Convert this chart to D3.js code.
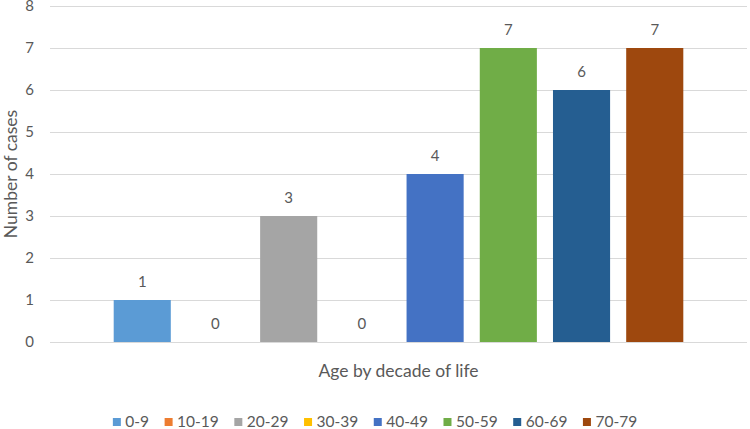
<!DOCTYPE html>
<html>
<head>
<meta charset="utf-8">
<script src="https://cdn.jsdelivr.net/npm/d3@7"></script>
<style>
  body { margin: 0; background: #fff; }
  text { font-family: Lato, "Open Sans", sans-serif; fill: #595959; }
</style>
</head>
<body>
<div class="canvas"></div>
<script>
// chart data
const groups = ['0-9', '10-19', '20-29', '30-39', '40-49', '50-59', '60-69', '70-79']
const cases = [1, 0, 3, 0, 4, 7, 6, 7]
const colors = ['#5b9bd5', '#ed7d31', '#a5a5a5', '#ffc000', '#4472c4', '#70ad47', '#255e91', '#9e480e']
const yTicks = [0, 1, 2, 3, 4, 5, 6, 7, 8]

const data = groups.map((g, i) => ({ group: g, value: cases[i], color: colors[i] }))

// dimensions
const dimensions = {
  margin: { top: 6, right: 3, bottom: 87, left: 50 },
  chartWidth: 750,
  chartHeight: 429,
}
const graphWidth = dimensions.chartWidth - dimensions.margin.left - dimensions.margin.right
const graphHeight = dimensions.chartHeight - dimensions.margin.top - dimensions.margin.bottom

const svg = d3
  .select('.canvas')
  .append('svg')
  .attr('width', dimensions.chartWidth)
  .attr('height', dimensions.chartHeight)

const graph = svg
  .append('g')
  .attr('transform', `translate(${dimensions.margin.left}, ${dimensions.margin.top})`)

// scales
const x = d3
  .scaleBand()
  .domain(groups)
  .range([0, graphWidth])
  .paddingInner(0.22)
  .paddingOuter(0.87)
const y = d3.scaleLinear().domain([0, 8]).range([graphHeight, 0])

// gridlines
graph
  .append('g')
  .selectAll('line')
  .data(yTicks)
  .join('line')
  .attr('x1', 0)
  .attr('x2', graphWidth)
  .attr('y1', (d) => Math.round(y(d)) + 0.5)
  .attr('y2', (d) => Math.round(y(d)) + 0.5)
  .attr('stroke', '#d9d9d9')
  .attr('stroke-width', 1)

// y axis
const yAxis = d3.axisLeft(y).tickValues(yTicks).tickSize(0).tickPadding(16)
const yAxisGroup = graph.append('g').call(yAxis)
yAxisGroup.select('.domain').remove()
yAxisGroup.selectAll('text').style('font-size', '15px').attr('fill', '#595959')

// bars
graph
  .selectAll('rect')
  .data(data)
  .join('rect')
  .attr('x', (d) => x(d.group))
  .attr('width', x.bandwidth())
  .attr('y', (d) => y(d.value))
  .attr('height', (d) => graphHeight - y(d.value))
  .attr('fill', (d) => d.color)

// data labels
graph
  .selectAll('.label')
  .data(data)
  .join('text')
  .attr('class', 'label')
  .attr('x', (d) => x(d.group) + x.bandwidth() / 2)
  .attr('y', (d) => y(d.value) - 13)
  .attr('text-anchor', 'middle')
  .style('font-size', '15px')
  .text((d) => d.value)

// axis titles
svg
  .append('text')
  .attr('x', dimensions.margin.left + graphWidth / 2)
  .attr('y', 377)
  .attr('text-anchor', 'middle')
  .style('font-size', '17.5px')
  .text('Age by decade of life')

svg
  .append('text')
  .attr('transform', `translate(17, ${dimensions.margin.top + graphHeight / 2}) rotate(-90)`)
  .attr('text-anchor', 'middle')
  .style('font-size', '17.5px')
  .text('Number of cases')

// legend
const legend = svg.append('g')
const gap = 15.5
let offset = 0
data.forEach((d) => {
  const item = legend.append('g').attr('transform', `translate(${offset}, 0)`)
  item.append('rect').attr('x', 0).attr('y', -9).attr('width', 8).attr('height', 8).attr('fill', d.color)
  const t = item.append('text').attr('x', 12.5).attr('y', 0).style('font-size', '15.5px').text(d.group)
  offset += 12.5 + t.node().getComputedTextLength() + gap
})
const legendWidth = offset - gap
legend.attr('transform', `translate(${375 - legendWidth / 2}, 427)`)
</script>
</body>
</html>
